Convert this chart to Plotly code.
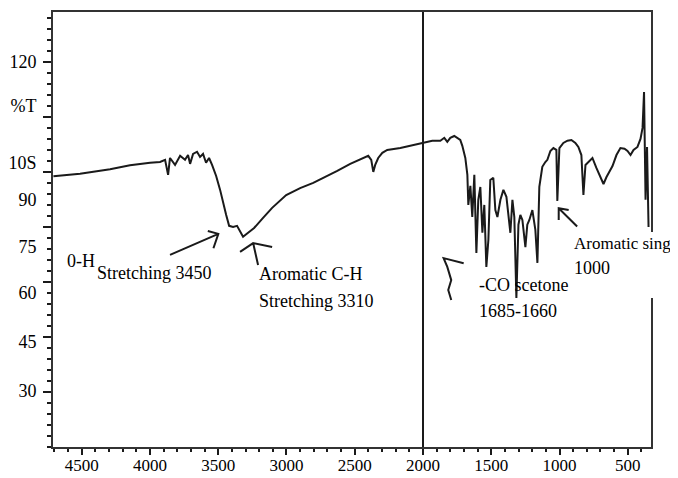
import plotly.graph_objects as go

# ---- data (wavenumber cm-1, %T) ----
wavenumber = [4707, 4512, 4292, 4146, 3999, 3926, 3889, 3867, 3853, 3816, 3779, 3743, 3721, 3706,
              3684, 3655, 3633, 3611, 3589, 3567, 3545, 3515, 3486, 3464, 3442, 3420, 3391, 3362,
              3340, 3318, 3281, 3237, 3178, 3105, 3002, 2900, 2804, 2716, 2628, 2533, 2460, 2401,
              2379, 2364, 2350, 2328, 2298, 2262, 2166, 2057, 1998, 1932, 1873, 1844, 1822, 1800,
              1771, 1749, 1727, 1712, 1690, 1675, 1668, 1653, 1639, 1624, 1609, 1595, 1580, 1565,
              1551, 1536, 1521, 1507, 1485, 1470, 1455, 1433, 1411, 1389, 1375, 1360, 1345, 1331,
              1316, 1301, 1287, 1272, 1250, 1236, 1221, 1199, 1177, 1162, 1148, 1126, 1104, 1089,
              1067, 1045, 1023, 1016, 1001, 972, 942, 913, 884, 862, 840, 825, 810, 788, 759, 730,
              715, 693, 678, 656, 634, 612, 583, 554, 524, 502, 480, 458, 429, 407, 392, 381, 370,
              359, 348]
transmittance = [88.8, 89.5, 90.7, 91.8, 92.5, 92.7, 93.3, 89.2, 93.8, 91.9, 94.4, 93.3, 94.6, 92.2,
                 94.9, 95.5, 94.1, 94.9, 92.5, 93.8, 91.9, 88.9, 85.1, 81.5, 78.3, 75.3, 75.0, 75.3,
                 73.9, 72.3, 73.4, 74.7, 77.2, 80.2, 83.7, 85.6, 87.0, 88.6, 90.3, 92.2, 93.5, 94.4,
                 93.3, 90.0, 91.9, 93.8, 95.2, 96.0, 96.5, 97.4, 97.9, 98.5, 98.5, 99.3, 98.2, 99.3,
                 99.8, 99.3, 98.7, 97.1, 93.8, 89.2, 81.0, 86.2, 77.7, 89.2, 67.9, 82.4, 85.9, 73.4,
                 81.0, 64.1, 71.5, 87.8, 88.4, 79.6, 77.7, 82.4, 85.1, 83.2, 78.3, 73.4, 82.4, 77.7,
                 55.6, 75.6, 78.3, 76.9, 69.5, 75.6, 76.9, 79.6, 74.2, 65.2, 85.9, 91.4, 92.7, 93.3,
                 95.7, 96.5, 96.0, 82.1, 96.5, 97.9, 98.5, 98.7, 97.9, 96.8, 94.6, 83.7, 91.9, 92.7,
                 93.8, 91.1, 89.7, 87.8, 86.7, 88.6, 90.0, 91.6, 94.6, 96.5, 96.3, 95.7, 94.6, 96.0,
                 96.8, 99.0, 102.0, 111.8, 82.4, 96.8, 75.0]

x_tick_values = [4500, 4000, 3500, 3000, 2500, 2000, 1500, 1000, 500]
x_tick_labels = ["4500", "4000", "3500", "3000", "2500", "2000", "1500", "1000", "500"]
y_major_ticks = [30, 45, 60, 75, 90, 105, 120]
y_label_values = [120, 108, 92.5, 82.4, 69.5, 57, 43.6, 30.3]
y_label_texts = ["120", "%T", "10S", "90", "75", "60", "45", "30"]

FONT = "Liberation Serif, Times New Roman, serif"
INK = "#1a1a1a"

fig = go.Figure()
fig.add_trace(go.Scatter(x=wavenumber, y=transmittance, mode="lines",
                         line=dict(color=INK, width=2), showlegend=False, hoverinfo="skip"))
fig.add_trace(go.Scatter(x=[], y=[], yaxis="y2", showlegend=False))

# vertical line at 2000 cm-1
fig.add_shape(type="line", xref="x", yref="paper", x0=2000, x1=2000, y0=0, y1=1,
              line=dict(color=INK, width=2))

# hand-drawn style arrows (annotations)
arrow_paths = [
    "M 3853 67.4 L 3499 73.1 M 3576 73.9 L 3499 73.1 L 3535 69.2",
    "M 3208 64.6 L 3244 70.6 M 3340 68.2 L 3244 70.6 L 3105 69.55",
    "M 1702 65.1 L 1849 66.5 L 1822 64.1 L 1793 60.5 L 1815 57.8 L 1793 55.1",
    "M 871 75.1 L 1006 80.1 M 933 79.6 L 1006 80.1 L 1006 76.9",
]
for p in arrow_paths:
    fig.add_shape(type="path", xref="x", yref="y", path=p, line=dict(color=INK, width=2))

# white patch covering the right border (as in reference)
fig.add_shape(type="rect", xref="paper", yref="paper", x0=0.856, x1=1.06, y0=0.3425, y1=0.494,
              fillcolor="white", line=dict(width=0), layer="above")

labels = [
    ("0-H", 4622, 65.7, 18),
    ("Stretching 3450", 4402, 62.5, 18),
    ("Aromatic C-H", 3215, 62.2, 18),
    ("Stretching 3310", 3215, 54.8, 18),
    ("-CO scetone", 1602, 59.2, 18),
    ("1685-1660", 1602, 52.1, 18),
    ("Aromatic sing", 906, 70.6, 17),
    ("1000", 906, 63.8, 18),
]
for t, x, y, s in labels:
    fig.add_annotation(text=t, x=x, y=y, xref="x", yref="y", showarrow=False,
                       xanchor="left", yanchor="middle",
                       font=dict(family=FONT, size=s, color="black"))

fig.update_layout(
    width=678, height=478,
    margin=dict(l=45, r=35, t=4, b=39),
    paper_bgcolor="white", plot_bgcolor="white",
    font=dict(family=FONT, size=18, color="black"),
    xaxis=dict(range=[4710, 330], tickvals=x_tick_values, ticktext=x_tick_labels,
               ticks="outside", ticklen=6, tickwidth=2, tickcolor=INK, automargin=False,
               ticklabelstandoff=-4, tickfont=dict(size=17),
               minor=dict(dtick=100, ticks="outside", ticklen=3, tickwidth=2, tickcolor=INK),
               showline=True, linecolor="#333", linewidth=2, mirror=True,
               showgrid=False, zeroline=False),
    yaxis=dict(range=[15, 133.6], tickvals=y_major_ticks, showticklabels=False,
               ticks="outside", ticklen=8, tickwidth=2, tickcolor=INK, automargin=False,
               minor=dict(tick0=0, dtick=3, ticks="outside", ticklen=4, tickwidth=2, tickcolor=INK),
               showline=True, linecolor="#333", linewidth=2, mirror=True,
               showgrid=False, zeroline=False),
    yaxis2=dict(range=[15, 133.6], overlaying="y", side="left", tickvals=y_label_values,
                ticktext=y_label_texts, ticks="outside", ticklen=12, tickcolor="rgba(0,0,0,0)",
                automargin=False, showline=False, showgrid=False, zeroline=False),
)

fig.write_html("out.html")
